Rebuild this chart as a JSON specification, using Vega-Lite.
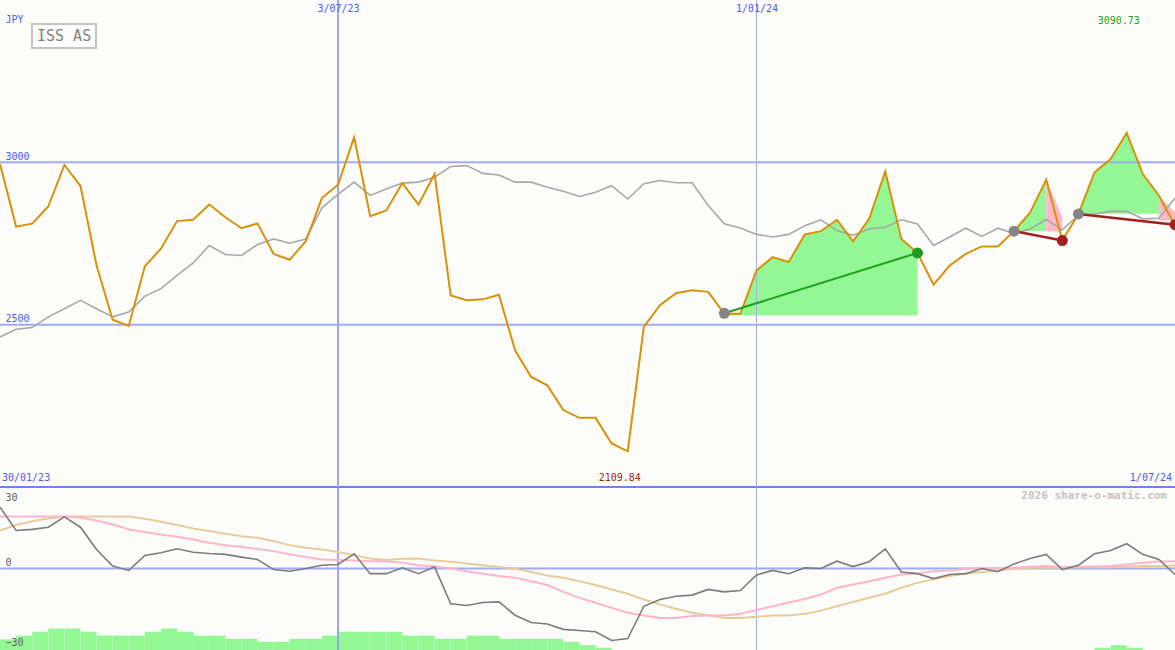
{
  "$schema": "https://vega.github.io/schema/vega-lite/v6.json",
  "background": "#fcfdfb",
  "padding": 0,
  "spacing": 0,
  "bounds": "flush",
  "config": {
    "view": {"stroke": null},
    "font": "DejaVu Sans Mono",
    "text": {"font": "DejaVu Sans Mono"},
    "axis": {"labelFont": "DejaVu Sans Mono", "titleFont": "DejaVu Sans Mono"},
    "legend": {"strokeColor": "#c4c4c4", "strokeWidth": 2, "padding": 4, "fillColor": "#fcfdfb"}
  },
  "resolve": {
    "scale": {"x": "independent", "y": "independent", "color": "independent", "fill": "independent"},
    "axis": {"x": "independent", "y": "independent"},
    "legend": {"color": "independent"}
  },
  "datasets": {
    "weekly": [
      {"d":"2023-02-06","p":2995,"g":2462,"m":22.6,"a":19.1,"b":14.0},
      {"d":"2023-02-13","p":2802,"g":2486,"m":14.0,"a":19.1,"b":16.0},
      {"d":"2023-02-20","p":2811,"g":2491,"m":14.4,"a":19.1,"b":17.4},
      {"d":"2023-02-27","p":2864,"g":2524,"m":15.2,"a":19.1,"b":18.4},
      {"d":"2023-03-06","p":2992,"g":2549,"m":19.0,"a":19.1,"b":19.1},
      {"d":"2023-03-13","p":2927,"g":2575,"m":15.2,"a":18.7,"b":19.1},
      {"d":"2023-03-20","p":2682,"g":2549,"m":7.0,"a":17.7,"b":19.1},
      {"d":"2023-03-27","p":2515,"g":2524,"m":0.9,"a":16.2,"b":19.1},
      {"d":"2023-04-03","p":2496,"g":2539,"m":-0.7,"a":14.4,"b":19.1},
      {"d":"2023-04-10","p":2680,"g":2588,"m":4.8,"a":13.4,"b":18.3},
      {"d":"2023-04-17","p":2734,"g":2611,"m":5.8,"a":12.5,"b":17.2},
      {"d":"2023-04-24","p":2819,"g":2652,"m":7.25,"a":11.7,"b":16.0},
      {"d":"2023-05-01","p":2823,"g":2690,"m":6.0,"a":10.7,"b":14.7},
      {"d":"2023-05-08","p":2870,"g":2744,"m":5.5,"a":9.5,"b":13.8},
      {"d":"2023-05-15","p":2831,"g":2716,"m":5.2,"a":8.6,"b":12.8},
      {"d":"2023-05-22","p":2797,"g":2713,"m":4.2,"a":7.9,"b":11.9},
      {"d":"2023-05-29","p":2812,"g":2747,"m":3.3,"a":7.2,"b":11.3},
      {"d":"2023-06-05","p":2718,"g":2764,"m":-0.4,"a":6.4,"b":10.1},
      {"d":"2023-06-12","p":2700,"g":2751,"m":-1.0,"a":5.2,"b":8.6},
      {"d":"2023-06-19","p":2757,"g":2764,"m":0.0,"a":4.2,"b":7.6},
      {"d":"2023-06-26","p":2890,"g":2860,"m":1.2,"a":3.3,"b":7.0},
      {"d":"2023-07-03","p":2931,"g":2901,"m":1.5,"a":3.1,"b":6.1},
      {"d":"2023-07-10","p":3077,"g":2939,"m":5.4,"a":2.95,"b":4.9},
      {"d":"2023-07-17","p":2834,"g":2898,"m":-1.9,"a":2.7,"b":3.7},
      {"d":"2023-07-24","p":2852,"g":2918,"m":-1.9,"a":2.7,"b":3.1},
      {"d":"2023-07-31","p":2936,"g":2936,"m":0.25,"a":2.1,"b":3.6},
      {"d":"2023-08-07","p":2870,"g":2939,"m":-1.9,"a":1.2,"b":3.7},
      {"d":"2023-08-14","p":2964,"g":2954,"m":0.6,"a":0.7,"b":2.95},
      {"d":"2023-08-21","p":2590,"g":2987,"m":-13.0,"a":0.0,"b":2.5},
      {"d":"2023-08-28","p":2575,"g":2990,"m":-13.6,"a":-1.0,"b":1.8},
      {"d":"2023-09-04","p":2578,"g":2966,"m":-12.5,"a":-1.9,"b":1.2},
      {"d":"2023-09-11","p":2592,"g":2961,"m":-12.3,"a":-2.8,"b":0.6},
      {"d":"2023-09-18","p":2421,"g":2939,"m":-17.2,"a":-3.4,"b":-0.1},
      {"d":"2023-09-25","p":2339,"g":2939,"m":-19.9,"a":-4.7,"b":-1.3},
      {"d":"2023-10-02","p":2313,"g":2923,"m":-20.4,"a":-6.1,"b":-2.6},
      {"d":"2023-10-09","p":2237,"g":2911,"m":-22.4,"a":-8.6,"b":-3.4},
      {"d":"2023-10-16","p":2213,"g":2895,"m":-22.8,"a":-10.8,"b":-4.7},
      {"d":"2023-10-23","p":2213,"g":2908,"m":-23.3,"a":-12.6,"b":-6.1},
      {"d":"2023-10-30","p":2134,"g":2928,"m":-26.5,"a":-14.5,"b":-7.7},
      {"d":"2023-11-06","p":2109.84,"g":2887,"m":-25.8,"a":-16.3,"b":-9.3},
      {"d":"2023-11-13","p":2493,"g":2934,"m":-13.9,"a":-17.3,"b":-11.4},
      {"d":"2023-11-20","p":2560,"g":2944,"m":-11.4,"a":-18.2,"b":-13.2},
      {"d":"2023-11-27","p":2597,"g":2937,"m":-10.2,"a":-18.2,"b":-14.8},
      {"d":"2023-12-04","p":2606,"g":2937,"m":-9.8,"a":-17.5,"b":-16.3},
      {"d":"2023-12-11","p":2601,"g":2867,"m":-7.7,"a":-17.3,"b":-17.2},
      {"d":"2023-12-18","p":2534,"g":2811,"m":-8.6,"a":-17.3,"b":-18.2},
      {"d":"2023-12-25","p":2534,"g":2798,"m":-8.1,"a":-16.7,"b":-18.2},
      {"d":"2024-01-01","p":2667,"g":2778,"m":-2.4,"a":-15.3,"b":-17.8},
      {"d":"2024-01-08","p":2708,"g":2770,"m":-0.7,"a":-13.9,"b":-17.3},
      {"d":"2024-01-15","p":2693,"g":2778,"m":-1.9,"a":-12.5,"b":-17.3},
      {"d":"2024-01-22","p":2778,"g":2805,"m":0.25,"a":-11.2,"b":-16.7},
      {"d":"2024-01-29","p":2788,"g":2823,"m":0.0,"a":-9.6,"b":-15.5},
      {"d":"2024-02-05","p":2823,"g":2790,"m":2.7,"a":-7.1,"b":-13.9},
      {"d":"2024-02-12","p":2757,"g":2775,"m":0.7,"a":-5.9,"b":-12.3},
      {"d":"2024-02-19","p":2826,"g":2795,"m":2.5,"a":-4.7,"b":-10.8},
      {"d":"2024-02-26","p":2972,"g":2800,"m":7.25,"a":-3.4,"b":-9.3},
      {"d":"2024-03-04","p":2764,"g":2823,"m":-1.3,"a":-2.2,"b":-7.1},
      {"d":"2024-03-11","p":2721,"g":2810,"m":-1.9,"a":-1.8,"b":-5.3},
      {"d":"2024-03-18","p":2623,"g":2744,"m":-3.7,"a":-1.0,"b":-4.0},
      {"d":"2024-03-25","p":2682,"g":2770,"m":-2.2,"a":-0.7,"b":-2.8},
      {"d":"2024-04-01","p":2718,"g":2797,"m":-1.9,"a":-0.1,"b":-1.9},
      {"d":"2024-04-08","p":2741,"g":2772,"m":0.0,"a":0.0,"b":-1.3},
      {"d":"2024-04-15","p":2741,"g":2797,"m":-1.2,"a":0.0,"b":-0.7},
      {"d":"2024-04-22","p":2788,"g":2780,"m":1.7,"a":0.25,"b":-0.1},
      {"d":"2024-04-29","p":2846,"g":2795,"m":3.7,"a":0.6,"b":0.25},
      {"d":"2024-05-06","p":2947,"g":2824,"m":5.2,"a":0.9,"b":0.25},
      {"d":"2024-05-13","p":2759,"g":2792,"m":-0.4,"a":0.5,"b":0.25},
      {"d":"2024-05-20","p":2841,"g":2838,"m":1.2,"a":0.6,"b":0.5},
      {"d":"2024-05-27","p":2969,"g":2841,"m":5.4,"a":0.7,"b":0.5},
      {"d":"2024-06-03","p":3010,"g":2849,"m":6.6,"a":0.9,"b":0.5},
      {"d":"2024-06-10","p":3090.73,"g":2849,"m":9.1,"a":1.5,"b":0.6},
      {"d":"2024-06-17","p":2964,"g":2826,"m":5.2,"a":2.1,"b":0.9},
      {"d":"2024-06-24","p":2898,"g":2828,"m":3.3,"a":2.6,"b":0.9},
      {"d":"2024-07-01","p":2805,"g":2890,"m":-2.2,"a":2.7,"b":1.1}
    ],
    "bars": [
      {"d":"2023-02-06","d2":"2023-02-13","v":-26.1},
      {"d":"2023-02-13","d2":"2023-02-20","v":-24.7},
      {"d":"2023-02-20","d2":"2023-02-27","v":-23.3},
      {"d":"2023-02-27","d2":"2023-03-06","v":-22.1},
      {"d":"2023-03-06","d2":"2023-03-13","v":-22.1},
      {"d":"2023-03-13","d2":"2023-03-20","v":-23.3},
      {"d":"2023-03-20","d2":"2023-03-27","v":-24.7},
      {"d":"2023-03-27","d2":"2023-04-03","v":-24.7},
      {"d":"2023-04-03","d2":"2023-04-10","v":-24.7},
      {"d":"2023-04-10","d2":"2023-04-17","v":-23.3},
      {"d":"2023-04-17","d2":"2023-04-24","v":-22.1},
      {"d":"2023-04-24","d2":"2023-05-01","v":-23.3},
      {"d":"2023-05-01","d2":"2023-05-08","v":-24.7},
      {"d":"2023-05-08","d2":"2023-05-15","v":-24.7},
      {"d":"2023-05-15","d2":"2023-05-22","v":-25.9},
      {"d":"2023-05-22","d2":"2023-05-29","v":-25.9},
      {"d":"2023-05-29","d2":"2023-06-05","v":-27.0},
      {"d":"2023-06-05","d2":"2023-06-12","v":-27.0},
      {"d":"2023-06-12","d2":"2023-06-19","v":-25.9},
      {"d":"2023-06-19","d2":"2023-06-26","v":-25.9},
      {"d":"2023-06-26","d2":"2023-07-03","v":-24.7},
      {"d":"2023-07-03","d2":"2023-07-10","v":-23.3},
      {"d":"2023-07-10","d2":"2023-07-17","v":-23.3},
      {"d":"2023-07-17","d2":"2023-07-24","v":-23.3},
      {"d":"2023-07-24","d2":"2023-07-31","v":-23.3},
      {"d":"2023-07-31","d2":"2023-08-07","v":-24.7},
      {"d":"2023-08-07","d2":"2023-08-14","v":-24.7},
      {"d":"2023-08-14","d2":"2023-08-21","v":-25.9},
      {"d":"2023-08-21","d2":"2023-08-28","v":-25.9},
      {"d":"2023-08-28","d2":"2023-09-04","v":-24.7},
      {"d":"2023-09-04","d2":"2023-09-11","v":-24.7},
      {"d":"2023-09-11","d2":"2023-09-18","v":-25.9},
      {"d":"2023-09-18","d2":"2023-09-25","v":-25.9},
      {"d":"2023-09-25","d2":"2023-10-02","v":-25.9},
      {"d":"2023-10-02","d2":"2023-10-09","v":-25.9},
      {"d":"2023-10-09","d2":"2023-10-16","v":-27.0},
      {"d":"2023-10-16","d2":"2023-10-23","v":-28.2},
      {"d":"2023-10-23","d2":"2023-10-30","v":-29.2},
      {"d":"2024-05-27","d2":"2024-06-03","v":-29.2},
      {"d":"2024-06-03","d2":"2024-06-10","v":-28.2},
      {"d":"2024-06-10","d2":"2024-06-17","v":-29.2}
    ],
    "fills": [
      {"seg":"A","kind":"green","d":"2023-12-18","top":2534,"base":2528},
      {"seg":"A","kind":"green","d":"2023-12-25","top":2534,"base":2528},
      {"seg":"A","kind":"green","d":"2024-01-01","top":2667,"base":2528},
      {"seg":"A","kind":"green","d":"2024-01-08","top":2708,"base":2528},
      {"seg":"A","kind":"green","d":"2024-01-15","top":2693,"base":2528},
      {"seg":"A","kind":"green","d":"2024-01-22","top":2778,"base":2528},
      {"seg":"A","kind":"green","d":"2024-01-29","top":2788,"base":2528},
      {"seg":"A","kind":"green","d":"2024-02-05","top":2823,"base":2528},
      {"seg":"A","kind":"green","d":"2024-02-12","top":2757,"base":2528},
      {"seg":"A","kind":"green","d":"2024-02-19","top":2826,"base":2528},
      {"seg":"A","kind":"green","d":"2024-02-26","top":2972,"base":2528},
      {"seg":"A","kind":"green","d":"2024-03-04","top":2764,"base":2528},
      {"seg":"A","kind":"green","d":"2024-03-11","top":2721,"base":2528},
      {"seg":"B","kind":"green","d":"2024-04-22","top":2788,"base":2788},
      {"seg":"B","kind":"green","d":"2024-04-29","top":2846,"base":2788},
      {"seg":"B","kind":"green","d":"2024-05-06","top":2947,"base":2788},
      {"seg":"C","kind":"pink","d":"2024-05-06","top":2947,"base":2788},
      {"seg":"C","kind":"pink","d":"2024-05-13","top":2831,"base":2788},
      {"seg":"D","kind":"green","d":"2024-05-20","top":2841,"base":2842},
      {"seg":"D","kind":"green","d":"2024-05-27","top":2969,"base":2842},
      {"seg":"D","kind":"green","d":"2024-06-03","top":3010,"base":2842},
      {"seg":"D","kind":"green","d":"2024-06-10","top":3090.73,"base":2842},
      {"seg":"D","kind":"green","d":"2024-06-17","top":2964,"base":2842},
      {"seg":"D","kind":"green","d":"2024-06-24","top":2898,"base":2842},
      {"seg":"E","kind":"pink","d":"2024-06-24","top":2898,"base":2821},
      {"seg":"E","kind":"pink","d":"2024-07-01","top":2846,"base":2821}
    ],
    "trends": [
      {"seg":"u1","kind":"up","d":"2023-12-18","v":2535},
      {"seg":"u1","kind":"up","d":"2024-03-11","v":2721},
      {"seg":"d1","kind":"down","d":"2024-04-22","v":2788},
      {"seg":"d1","kind":"down","d":"2024-05-13","v":2759},
      {"seg":"d2","kind":"down","d":"2024-05-20","v":2841},
      {"seg":"d2","kind":"down","d":"2024-07-01","v":2808}
    ],
    "dots": [
      {"d":"2023-12-18","v":2535,"kind":"start"},
      {"d":"2024-03-11","v":2721,"kind":"up"},
      {"d":"2024-04-22","v":2788,"kind":"start"},
      {"d":"2024-05-13","v":2759,"kind":"down"},
      {"d":"2024-05-20","v":2841,"kind":"start"},
      {"d":"2024-07-01","v":2808,"kind":"down"}
    ]
  },
  "vconcat": [
    {
      "width": 1175,
      "height": 487,
      "layer": [
        {
          "data": {"name": "fills"},
          "transform": [{"filter": "datum.kind == 'green'"}],
          "mark": {"type": "area", "color": "#93f793", "opacity": 1, "clip": true},
          "encoding": {
            "x": {
              "field": "d", "type": "temporal",
              "scale": {"type": "utc", "domain": [{"year": 2023, "month": 2, "date": 6, "utc": true}, {"year": 2024, "month": 7, "date": 1, "utc": true}]},
              "axis": {
                "orient": "top", "zindex": 1,
                "values": [{"year": 2023, "month": 7, "date": 3, "utc": true}, {"year": 2024, "month": 1, "date": 1, "utc": true}],
                "format": "%-d/%m/%y",
                "domain": false, "ticks": false, "tickSize": 0, "grid": false,
                "labelPadding": -8, "labelBaseline": "middle", "labelAlign": "center",
                "labelColor": "#4a5ae8", "labelFontSize": 10, "labelFont": "DejaVu Sans Mono",
                "labelOverlap": false, "labelFlush": false, "title": null
              }
            },
            "y": {
              "field": "top", "type": "quantitative",
              "scale": {"domain": [2000, 3500], "nice": false, "zero": false},
              "axis": {
                "orient": "left", "zindex": 1, "values": [2500, 3000], "format": "d", "grid": false, "domain": false, "ticks": false, "tickSize": 0,
                "labelAlign": "left", "labelBaseline": "alphabetic", "labelPadding": -5, "labelOffset": -3,
                "labelColor": "#4a5ae8", "labelFontSize": 10, "labelFont": "DejaVu Sans Mono",
                "title": "JPY", "titleAngle": 0, "titleX": 5, "titleY": 19, "titleAlign": "left", "titleBaseline": "middle",
                "titleColor": "#4a5ae8", "titleFontSize": 10, "titleFontWeight": "normal", "titleFont": "DejaVu Sans Mono"
              }
            },
            "y2": {"field": "base"},
            "detail": {"field": "seg"}
          }
        },
        {
          "data": {"name": "fills"},
          "transform": [{"filter": "datum.kind == 'pink'"}],
          "mark": {"type": "area", "color": "#ffb8c8", "opacity": 1, "clip": true},
          "encoding": {
            "x": {"field": "d", "type": "temporal"},
            "y": {"field": "top", "type": "quantitative"},
            "y2": {"field": "base"},
            "detail": {"field": "seg"}
          }
        },
        {
          "data": {"values": [{"v": 2500}, {"v": 3000}]},
          "mark": {"type": "rule", "color": "#a0acf0", "strokeWidth": 2, "clip": true},
          "encoding": {"y": {"field": "v", "type": "quantitative"}}
        },
        {
          "data": {"values": [{}]},
          "mark": {"type": "rule", "color": "#7080ee", "strokeWidth": 2, "clip": true},
          "encoding": {"y": {"datum": 2000, "type": "quantitative"}}
        },
        {
          "data": {"values": [{}]},
          "mark": {"type": "rule", "color": "#9aaaf2", "strokeWidth": 2, "clip": true},
          "encoding": {"x": {"datum": {"year": 2023, "month": 7, "date": 3, "utc": true}, "type": "temporal"}}
        },
        {
          "data": {"values": [{}]},
          "mark": {"type": "rule", "color": "#a8b0dc", "strokeWidth": 1, "clip": true},
          "encoding": {"x": {"datum": {"year": 2024, "month": 1, "date": 1, "utc": true}, "type": "temporal"}}
        },
        {
          "data": {"name": "weekly"},
          "mark": {"type": "line", "color": "#a8a8a8", "strokeWidth": 1.6, "clip": true},
          "encoding": {
            "x": {"field": "d", "type": "temporal"},
            "y": {"field": "g", "type": "quantitative"}
          }
        },
        {
          "data": {"name": "weekly"},
          "mark": {"type": "line", "strokeWidth": 2, "clip": true},
          "encoding": {
            "x": {"field": "d", "type": "temporal"},
            "y": {"field": "p", "type": "quantitative"},
            "color": {
              "datum": "ISS AS", "type": "nominal",
              "scale": {"range": ["#d8920a"]},
              "legend": {
                "orient": "none", "legendX": 32, "legendY": 24, "title": null,
                "labelFont": "DejaVu Sans Mono", "labelFontSize": 15, "labelColor": "#808080",
                "symbolType": "circle", "symbolSize": 0, "symbolOpacity": 0, "symbolStrokeWidth": 0, "labelOffset": -14
              }
            }
          }
        },
        {
          "data": {"name": "trends"},
          "transform": [{"filter": "datum.kind == 'up'"}],
          "mark": {"type": "line", "color": "#22a022", "strokeWidth": 2, "clip": true},
          "encoding": {
            "x": {"field": "d", "type": "temporal"},
            "y": {"field": "v", "type": "quantitative"},
            "detail": {"field": "seg"}
          }
        },
        {
          "data": {"name": "trends"},
          "transform": [{"filter": "datum.kind == 'down'"}],
          "mark": {"type": "line", "color": "#a41e1e", "strokeWidth": 2.5, "clip": true},
          "encoding": {
            "x": {"field": "d", "type": "temporal"},
            "y": {"field": "v", "type": "quantitative"},
            "detail": {"field": "seg"}
          }
        },
        {
          "data": {"name": "dots"},
          "mark": {"type": "circle", "size": 120, "opacity": 1, "clip": true},
          "encoding": {
            "x": {"field": "d", "type": "temporal"},
            "y": {"field": "v", "type": "quantitative"},
            "fill": {"field": "kind", "type": "nominal", "scale": {"domain": ["start", "up", "down"], "range": ["#858585", "#229a22", "#a41e1e"]}, "legend": null}
          }
        },
        {
          "data": {"values": [{"d": "2024-06-10", "v": 3090.73}]},
          "mark": {"type": "text", "color": "#22a022", "fontSize": 10, "align": "center", "baseline": "middle", "dx": -8, "dy": 21},
          "encoding": {
            "x": {"field": "d", "type": "temporal"},
            "y": {"datum": 3500, "type": "quantitative"},
            "text": {"field": "v", "type": "quantitative", "format": ".2f"}
          }
        },
        {
          "data": {"values": [{"d": "2023-11-06", "v": 2109.84}]},
          "mark": {"type": "text", "color": "#a02020", "fontSize": 10, "align": "center", "baseline": "middle", "dx": -8, "dy": -9},
          "encoding": {
            "x": {"field": "d", "type": "temporal"},
            "y": {"datum": 2000, "type": "quantitative"},
            "text": {"field": "v", "type": "quantitative", "format": ".2f"}
          }
        },
        {
          "data": {"values": [{}]},
          "mark": {"type": "text", "text": "30/01/23", "color": "#4a5ae8", "fontSize": 10, "align": "left", "baseline": "middle", "dx": 2, "dy": -9},
          "encoding": {
            "x": {"datum": {"year": 2023, "month": 2, "date": 6, "utc": true}, "type": "temporal"},
            "y": {"datum": 2000, "type": "quantitative"}
          }
        },
        {
          "data": {"values": [{}]},
          "mark": {"type": "text", "text": "1/07/24", "color": "#4a5ae8", "fontSize": 10, "align": "right", "baseline": "middle", "dx": -3, "dy": -9},
          "encoding": {
            "x": {"datum": {"year": 2024, "month": 7, "date": 1, "utc": true}, "type": "temporal"},
            "y": {"datum": 2000, "type": "quantitative"}
          }
        }
      ]
    },
    {
      "width": 1175,
      "height": 163,
      "layer": [
        {
          "data": {"name": "bars"},
          "mark": {"type": "rect", "color": "#93f793", "clip": true},
          "encoding": {
            "x": {"field": "d", "type": "temporal", "scale": {"type": "utc", "domain": [{"year": 2023, "month": 2, "date": 6, "utc": true}, {"year": 2024, "month": 7, "date": 1, "utc": true}]}, "axis": null},
            "x2": {"field": "d2"},
            "y": {
              "field": "v", "type": "quantitative",
              "scale": {"domain": [-30, 30], "nice": false, "zero": false},
              "axis": {
                "orient": "left", "zindex": 1, "values": [-30, 0, 30], "grid": false, "domain": false, "ticks": false, "tickSize": 0,
                "labelAlign": "left", "labelBaseline": "alphabetic", "labelPadding": -5,
                "labelOffset": {"condition": [{"test": "datum.value == 30", "value": 13}, {"test": "datum.value == -30", "value": -5}], "value": -3},
                "labelColor": "#606060", "labelFontSize": 10, "labelFont": "DejaVu Sans Mono", "title": null
              }
            },
            "y2": {"datum": -30}
          }
        },
        {
          "data": {"values": [{}]},
          "mark": {"type": "rule", "color": "#a0acf0", "strokeWidth": 2, "clip": true},
          "encoding": {"y": {"datum": 0, "type": "quantitative"}}
        },
        {
          "data": {"values": [{}]},
          "mark": {"type": "rule", "color": "#9aaaf2", "strokeWidth": 2, "clip": true},
          "encoding": {"x": {"datum": {"year": 2023, "month": 7, "date": 3, "utc": true}, "type": "temporal"}}
        },
        {
          "data": {"values": [{}]},
          "mark": {"type": "rule", "color": "#a8b0dc", "strokeWidth": 1, "clip": true},
          "encoding": {"x": {"datum": {"year": 2024, "month": 1, "date": 1, "utc": true}, "type": "temporal"}}
        },
        {
          "data": {"values": [{}]},
          "mark": {"type": "rule", "color": "#7080ee", "strokeWidth": 2, "clip": true},
          "encoding": {"y": {"datum": 30, "type": "quantitative"}}
        },
        {
          "data": {"name": "weekly"},
          "mark": {"type": "line", "color": "#e6cc9a", "strokeWidth": 2, "clip": true},
          "encoding": {
            "x": {"field": "d", "type": "temporal"},
            "y": {"field": "b", "type": "quantitative"}
          }
        },
        {
          "data": {"name": "weekly"},
          "mark": {"type": "line", "color": "#ffb4cc", "strokeWidth": 2, "clip": true},
          "encoding": {
            "x": {"field": "d", "type": "temporal"},
            "y": {"field": "a", "type": "quantitative"}
          }
        },
        {
          "data": {"name": "weekly"},
          "mark": {"type": "line", "color": "#7c7c7c", "strokeWidth": 1.6, "clip": true},
          "encoding": {
            "x": {"field": "d", "type": "temporal"},
            "y": {"field": "m", "type": "quantitative"}
          }
        },
        {
          "data": {"values": [{}]},
          "mark": {"type": "text", "text": "2026 share-o-matic.com", "color": "#c4c4c4", "fontSize": 11, "fontWeight": "bold", "align": "right", "baseline": "middle", "dx": -8, "dy": 9},
          "encoding": {
            "x": {"datum": {"year": 2024, "month": 7, "date": 1, "utc": true}, "type": "temporal"},
            "y": {"datum": 30, "type": "quantitative"}
          }
        }
      ]
    }
  ]
}
